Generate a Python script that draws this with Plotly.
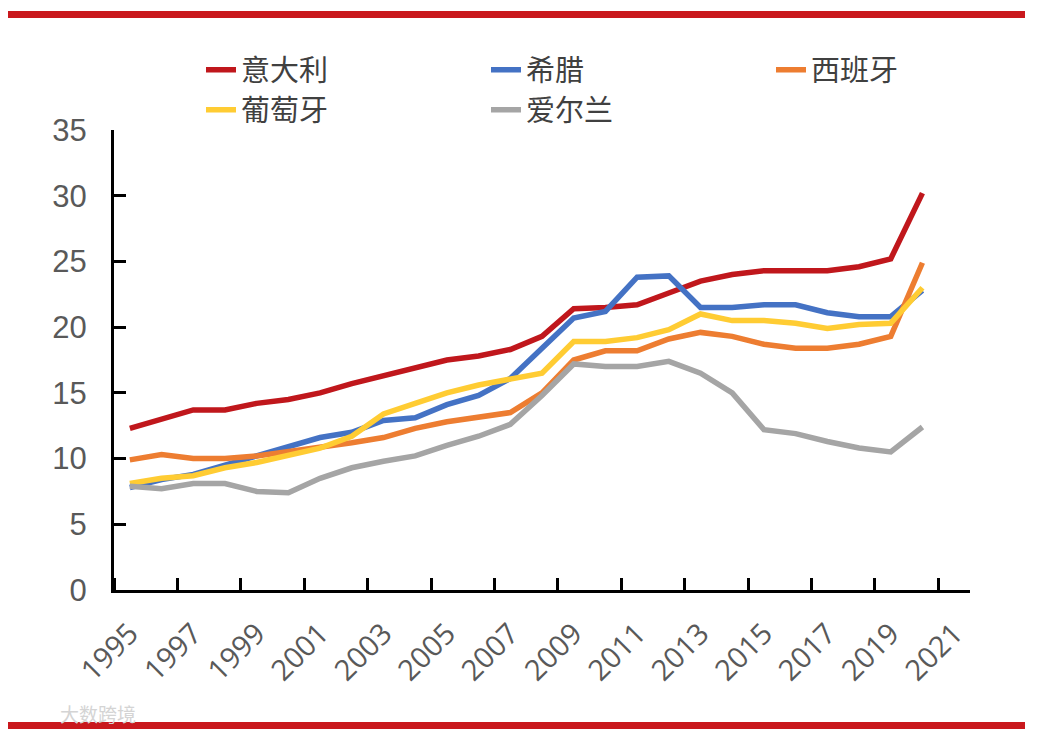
import plotly.graph_objects as go

years = list(range(1995, 2021))
italy = [12.3, 13.0, 13.7, 13.7, 14.2, 14.5, 15.0, 15.7, 16.3, 17.0, 17.5, 17.8, 18.3, 19.3,
         21.4, 21.5, 21.7, 22.6, 23.5, 24.0, 24.3, 24.3, 24.3, 24.6, 25.2, 30.2]
greece = [7.8, 8.4, 8.8, 9.5, 10.1, 10.8, 11.6, 12.0, 12.9, 13.1, 14.1, 14.8, 16.1, 18.4,
          20.7, 21.2, 23.8, 23.9, 21.5, 21.5, 21.7, 21.7, 21.1, 20.8, 20.8, 22.8]
spain = [9.9, 10.3, 10.0, 10.0, 10.2, 10.5, 10.8, 11.2, 11.6, 12.3, 12.8, 13.1, 13.5, 15.0,
         17.5, 18.2, 18.2, 19.1, 19.6, 19.3, 18.7, 18.4, 18.4, 18.7, 19.3, 24.9]
portugal = [8.1, 8.5, 8.7, 9.3, 9.7, 10.2, 10.8, 11.7, 13.4, 14.2, 15.0, 15.6, 16.0, 16.5,
            18.9, 18.9, 19.2, 19.8, 21.0, 20.5, 20.5, 20.3, 19.9, 20.2, 20.3, 23.0]
ireland = [7.9, 7.7, 8.1, 8.1, 7.5, 7.4, 8.5, 9.3, 9.8, 10.2, 11.0, 11.7, 12.6, 14.8,
           17.2, 17.0, 17.0, 17.4, 16.5, 15.0, 12.2, 11.9, 11.3, 10.8, 10.5, 12.4]

names = ["意大利", "希腊", "西班牙", "葡萄牙", "爱尔兰"]
colors = ["#C0171C", "#4472C4", "#ED7D31", "#FFCC33", "#A5A5A5"]
series = [italy, greece, spain, portugal, ireland]
legends = ["legend", "legend", "legend", "legend2", "legend2"]

tick_years = list(range(1995, 2022, 2))
y_ticks = list(range(0, 36, 5))

W, H = 1030, 726          # page body adds an 8px offset
ML, MT, MR, MB = 106, 122, 68, 144
PW, PH = W - ML - MR, H - MT - MB
BOTTOM = H - MB

fig = go.Figure()
for name, vals, col, lg in zip(names, series, colors, legends):
    fig.add_trace(go.Scatter(
        x=years, y=vals, name=name, mode="lines",
        line=dict(color=col, width=5.5),
        legend=lg,
    ))

legend_font = dict(family="Noto Sans CJK SC", size=29, color="#404040")
common_legend = dict(
    orientation="h", xref="container", yref="container",
    xanchor="left", yanchor="middle",
    entrywidth=240, entrywidthmode="pixels",
    font=legend_font, bgcolor="rgba(0,0,0,0)", borderwidth=0,
    itemwidth=30, tracegroupgap=0,
)

fig.update_layout(
    width=W, height=H,
    margin=dict(l=ML, r=MR, t=MT, b=MB, autoexpand=False),
    paper_bgcolor="white", plot_bgcolor="white",
    legend=dict(common_legend, x=193 / W, y=1 - 62 / H),
    legend2=dict(common_legend, x=193 / W, y=1 - 102 / H),
    xaxis=dict(
        range=[1994.5, 2021.5],
        tickmode="array", tickvals=tick_years, ticktext=[str(y) for y in tick_years],
        ticks="", tickangle=-45,
        tickfont=dict(family="Open Sans", size=29, color="#595959"),
        showline=True, linecolor="black", linewidth=3,
        showgrid=False, zeroline=False,
        minor=dict(tick0=1994.5, dtick=2, ticks="inside", ticklen=12,
                   tickwidth=2.5, tickcolor="black", showgrid=False),
        ticklabelstandoff=12,
    ),
    yaxis=dict(
        range=[0, 35], tickmode="array", tickvals=y_ticks,
        ticks="inside", ticklen=12, tickwidth=2.5, tickcolor="black",
        tickfont=dict(family="Liberation Sans", size=31, color="#595959"),
        showline=True, linecolor="black", linewidth=3,
        showgrid=False, zeroline=False,
        ticklabelstandoff=18,
    ),
    shapes=[
        dict(type="rect", xref="paper", yref="paper",
             x0=-ML / PW, x1=(1017 - ML) / PW,
             y0=(BOTTOM - 10) / PH, y1=(BOTTOM - 3) / PH,
             fillcolor="#C9181D", line=dict(width=0), layer="above"),
        dict(type="rect", xref="paper", yref="paper",
             x0=-ML / PW, x1=(1017 - ML) / PW,
             y0=(BOTTOM - 721) / PH, y1=(BOTTOM - 714) / PH,
             fillcolor="#C9181D", line=dict(width=0), layer="above"),
    ],
    annotations=[
        dict(text="大数跨境", xref="paper", yref="paper",
             x=(90 - ML) / PW, y=(BOTTOM - 705) / PH,
             xanchor="center", yanchor="middle", showarrow=False,
             font=dict(family="Noto Sans CJK SC", size=19, color="#D4D4D4")),
    ],
)

fig.write_html("out.html")
